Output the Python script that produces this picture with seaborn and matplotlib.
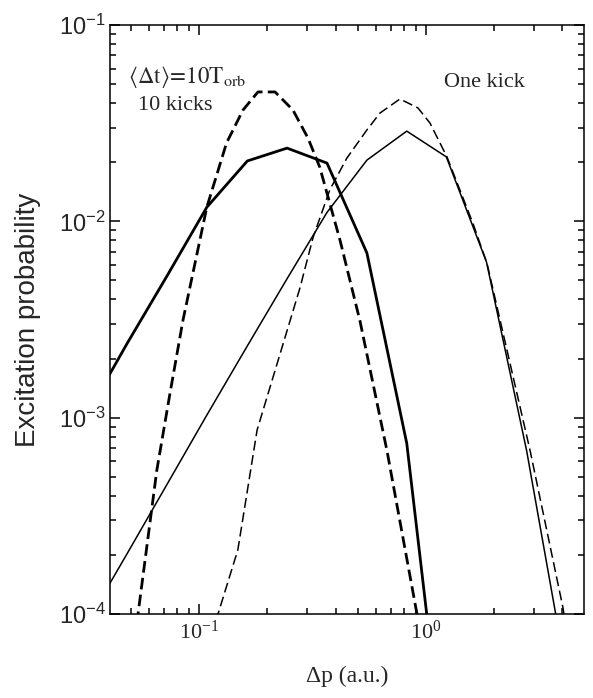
import math
import matplotlib
matplotlib.use("Agg")
import matplotlib.pyplot as plt
import matplotlib.ticker as mticker
import seaborn as sns
import pandas as pd

# ---- data ----
kick10_solid_x = [0.0321, 0.0482, 0.0723, 0.108, 0.163, 0.244, 0.366, 0.549, 0.823, 1.23]
kick10_solid_y = [1.05e-3, 2.4e-3, 5.3e-3, 1.18e-2, 2.03e-2, 2.36e-2, 1.98e-2, 6.9e-3, 7.4e-4, 1.4e-5]

kick10_dash_x = [0.053, 0.0537, 0.065, 0.0743, 0.0848, 0.108, 0.132, 0.156, 0.1815, 0.216,
                 0.259, 0.302, 0.34, 0.418, 0.512, 0.673, 0.913, 0.93]
kick10_dash_y = [9.0e-5, 1.0e-4, 5.4e-4, 1.33e-3, 3.14e-3, 1.18e-2, 2.51e-2, 3.69e-2, 4.56e-2, 4.56e-2,
                 3.69e-2, 2.65e-2, 1.89e-2, 8.0e-3, 3.1e-3, 6.8e-4, 1.0e-4, 8.8e-5]

kick1_solid_x = [0.0321, 0.0482, 0.0723, 0.108, 0.163, 0.244, 0.366, 0.549, 0.823, 1.23, 1.85, 2.78, 4.17]
kick1_solid_y = [9.1e-5, 2.04e-4, 4.6e-4, 1.03e-3, 2.32e-3, 5.1e-3, 1.11e-2, 2.05e-2, 2.88e-2, 2.13e-2,
                 6.2e-3, 6.8e-4, 4.9e-5]

kick1_dash_x = [0.119, 0.121, 0.148, 0.180, 0.278, 0.318, 0.377, 0.448, 0.549, 0.627, 0.768, 0.922,
                1.041, 1.238, 1.61, 1.86, 2.88, 4.02, 4.1]
kick1_dash_y = [9.3e-5, 1.0e-4, 2.12e-4, 8.65e-4, 4.57e-3, 8.3e-3, 1.45e-2, 2.1e-2, 2.92e-2, 3.56e-2,
                4.2e-2, 3.78e-2, 3.17e-2, 2.13e-2, 9.8e-3, 6.1e-3, 6.8e-4, 1.08e-4, 9.3e-5]

x_ticks = [0.1, 1.0]
y_ticks = [1e-4, 1e-3, 1e-2, 1e-1]

sns.set_theme(style="ticks")
plt.rcParams["mathtext.fontset"] = "stix"
plt.rcParams["font.family"] = ["Liberation Serif", "DejaVu Serif"]

fig = plt.figure(figsize=(5.93, 6.98), dpi=100)
ax = fig.add_axes([110 / 593, 84 / 698, 474 / 593, 589 / 698])

series = [
    (kick10_solid_x, kick10_solid_y, 2.0, None),
    (kick10_dash_x, kick10_dash_y, 2.0, (4.2, 1.9)),
    (kick1_solid_x, kick1_solid_y, 1.1, None),
    (kick1_dash_x, kick1_dash_y, 1.1, (6.5, 3.0)),
]
for xs, ys, lw, dash in series:
    df = pd.DataFrame({"dp": xs, "prob": ys})
    sns.lineplot(data=df, x="dp", y="prob", ax=ax, color="black", linewidth=lw,
                 estimator=None, sort=False)
    line = ax.lines[-1]
    if dash is not None:
        line.set_dashes(dash)
        line.set_dash_capstyle("butt")

ax.set_xscale("log")
ax.set_yscale("log")
ax.set_xlim(0.0404, 4.98)
ax.set_ylim(1e-4, 1e-1)

ax.xaxis.set_major_locator(mticker.FixedLocator(x_ticks))
ax.yaxis.set_major_locator(mticker.FixedLocator(y_ticks))
ax.xaxis.set_minor_locator(mticker.LogLocator(base=10, subs=range(2, 10), numticks=20))
ax.yaxis.set_minor_locator(mticker.LogLocator(base=10, subs=range(2, 10), numticks=20))
ax.xaxis.set_minor_formatter(mticker.NullFormatter())
ax.yaxis.set_minor_formatter(mticker.NullFormatter())


def fmt(v, pos):
    e = int(round(math.log10(v)))
    return r"$\mathregular{10^{%d}}$" % e


ax.xaxis.set_major_formatter(mticker.FuncFormatter(fmt))
ax.yaxis.set_major_formatter(mticker.FuncFormatter(fmt))

for s in ax.spines.values():
    s.set_visible(True)
    s.set_linewidth(1.1)
    s.set_color("black")

ax.tick_params(which="both", direction="in", top=True, right=True, color="black", width=1.1)
ax.tick_params(which="major", length=7)
ax.tick_params(which="minor", length=4)
ax.tick_params(axis="x", which="major", pad=5, labelsize=16)
ax.tick_params(axis="y", which="major", pad=3, labelsize=17)
for lab in ax.get_yticklabels():
    lab.set_fontfamily(["Liberation Sans", "DejaVu Sans"])
for lab in ax.get_xticklabels():
    lab.set_fontfamily(["Liberation Serif", "DejaVu Serif"])

ax.set_xlabel("")
ax.set_ylabel("")
fig.text(347 / 593, 1 - 676 / 698, "Δp (a.u.)", ha="center", va="center", fontsize=17,
         family=["Liberation Serif", "DejaVu Serif"])
fig.text(28 / 593, 1 - 320 / 698, "Excitation probability", ha="center", va="center",
         rotation=90, fontsize=20, family=["Liberation Sans", "DejaVu Sans"])

ax.text(0.038, 0.9015, r"$\langle\Delta\mathrm{t}\rangle\!=\!10\mathrm{T}_{\mathrm{orb}}$",
        transform=ax.transAxes, fontsize=16.5, ha="left", va="baseline")
ax.text(0.059, 0.8795, "10 kicks", transform=ax.transAxes, fontsize=16, ha="left", va="top",
        family=["Liberation Serif", "DejaVu Serif"])
ax.text(0.705, 0.895, "One kick", transform=ax.transAxes, fontsize=16, ha="left", va="baseline",
        family=["Liberation Serif", "DejaVu Serif"])

fig.savefig("out.png", dpi=100, facecolor="white")
